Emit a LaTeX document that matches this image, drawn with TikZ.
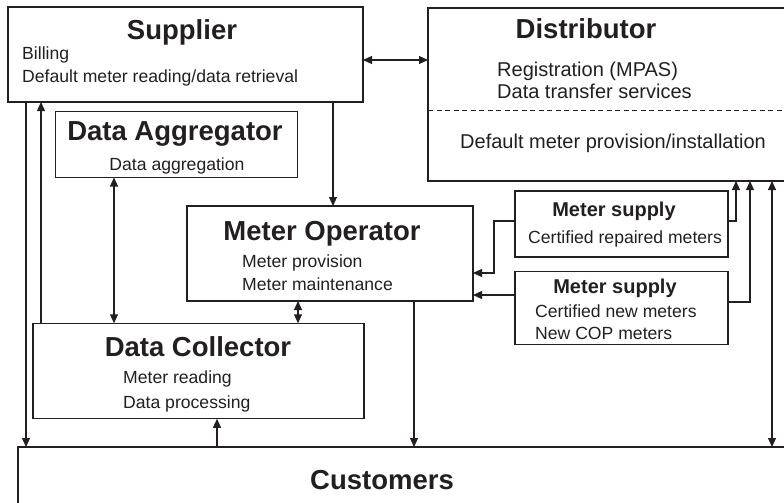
\documentclass[tikz,border=0pt]{standalone}
\usepackage{fontspec}
\setmainfont{Liberation Sans}
\usetikzlibrary{arrows.meta}
\definecolor{ink}{HTML}{231F20}
\begin{document}
\begin{tikzpicture}[x=1pt,y=-1pt,
  box/.style={draw=ink,line width=1.1pt,rectangle,inner sep=0pt,outer sep=0pt},
  ttl/.style={font=\bfseries\fontsize{27.5}{30}\selectfont,text=ink,inner sep=0pt,anchor=base},
  ttlsm/.style={font=\bfseries\fontsize{20}{22}\selectfont,text=ink,inner sep=0pt,anchor=base},
  sub/.style={font=\fontsize{17.6}{20}\selectfont,text=ink,inner sep=0pt,anchor=base west},
  subl/.style={font=\fontsize{20}{22}\selectfont,text=ink,inner sep=0pt,anchor=base west},
  ar/.style={draw=ink,line width=1.1pt,-{Triangle[length=9pt,width=8pt]}},
  dar/.style={draw=ink,line width=1.1pt,{Triangle[length=9pt,width=8pt]}-{Triangle[length=9pt,width=8pt]}},
  ln/.style={draw=ink,line width=1.1pt}
]
\useasboundingbox (0,0) rectangle (784,503);
\clip (0,0) rectangle (784,503);

% boxes
\node[box,minimum width=355pt,minimum height=95pt] (sup) at (185.5,54.5) {};
\node[box,minimum width=372pt,minimum height=173pt] (dis) at (614,94.5) {};
\node[box,minimum width=242pt,minimum height=66pt] (agg) at (176.5,144.5) {};
\node[box,minimum width=286pt,minimum height=95pt] (mo) at (330,253.5) {};
\node[box,minimum width=331pt,minimum height=95.5pt] (dc) at (198.5,371) {};
\node[box,minimum width=782pt,minimum height=113pt] (cus) at (409,503.5) {};
\node[box,minimum width=213pt,minimum height=66pt] (ms1) at (621.5,224) {};
\node[box,minimum width=213pt,minimum height=73pt] (ms2) at (621.5,308) {};

% dashed separator in distributor
\coordinate (dsl) at (dis.west |- 0,110);
\coordinate (dsr) at (dis.east |- 0,110);
\draw[draw=ink,line width=0.9pt,dash pattern=on 5pt off 3.5pt] (dsl) -- (dsr);

% texts
\node[ttl] (tsup) at (182,40) {Supplier};
\node[sub] (tsup1) at (22,59.5) {Billing};
\node[sub] (tsup2) at (22,82) {Default meter reading/data retrieval};

\node[ttl] (tdis) at (586,38) {Distributor};
\node[subl] (tdis1) at (497,76) {Registration (MPAS)};
\node[subl] (tdis2) at (497,99) {Data transfer services};
\node[subl] (tdis3) at (460,148) {Default meter provision/installation};

\node[ttl] (tagg) at (175,140) {Data Aggregator};
\node[sub,anchor=base] (tagg1) at (177,170) {Data aggregation};

\node[ttl] (tmo) at (322,240) {Meter Operator};
\node[sub] (tmo1) at (242,267) {Meter provision};
\node[sub] (tmo2) at (242,290) {Meter maintenance};

\node[ttl] (tdc) at (198,356) {Data Collector};
\node[sub] (tdc1) at (123,383) {Meter reading};
\node[sub] (tdc2) at (123,408) {Data processing};

\node[ttl] (tcus) at (382,489) {Customers};

\node[ttlsm] (tms1) at (614,216) {Meter supply};
\node[sub] (tms11) at (528,243) {Certified repaired meters};

\node[ttlsm] (tms2) at (615,293) {Meter supply};
\node[sub] (tms21) at (535,317) {Certified new meters};
\node[sub] (tms22) at (535,339) {New COP meters};

% connectors
\draw[dar] (sup.east |- 0,60) -- (dis.west |- 0,60);
\draw[ar] (sup.south -| 333,0) -- (mo.north -| 333,0);
\draw[ar] (sup.south -| 26,0) -- (cus.north -| 26,0);
\draw[ar] (dc.north -| 41,0) -- (sup.south -| 41,0);
\draw[dar] (agg.south -| 114,0) -- (dc.north -| 114,0);
\draw[dar] (mo.south -| 298,0) -- (dc.north -| 298,0);
\draw[ar] (cus.north -| 217,0) -- (dc.south -| 217,0);
\draw[ar] (mo.south -| 414,0) -- (cus.north -| 414,0);
\draw[dar] (dis.south -| 772,0) -- (cus.north -| 772,0);

\draw[ar] (ms1.west |- 0,221) -- (494,221) -- (494,273) -- (mo.east |- 0,273);
\draw[ar] (ms1.east |- 0,221) -- (736,221) -- (dis.south -| 736,0);
\draw[ar] (ms2.west |- 0,295) -- (mo.east |- 0,295);
\draw[ar] (ms2.east |- 0,302) -- (750,302) -- (dis.south -| 750,0);
\end{tikzpicture}
\end{document}
